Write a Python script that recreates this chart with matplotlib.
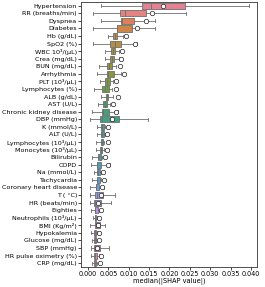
import matplotlib
matplotlib.use("Agg")
import matplotlib.pyplot as plt
import seaborn as sns

# features ordered by median |SHAP|
features = ["Hypertension", "RR (breaths/min)", "Dyspnea", "Diabetes", "Hb (g/dL)",
            "SpO2 (%)", "WBC 10³/(μL)", "Crea (mg/dL)", "BUN (mg/dL)", "Arrhythmia",
            "PLT (10³/μL)", "Lymphocytes (%)", "ALB (g/dL)", "AST (U/L)",
            "Chronic kidney disease", "DBP (mmHg)", "K (mmol/L)", "ALT (U/L)",
            "Lymphocytes (10³/μL)", "Monocytes (10³/μL)", "Bilirubin", "COPD",
            "Na (mmol/L)", "Tachycardia", "Coronary heart disease", "T ( °C)",
            "HR (beats/min)", "Eighties", "Neutrophils (10³/μL)", "BMI (Kg/m²)",
            "Hypokalemia", "Glucose (mg/dL)", "SBP (mmHg)", "HR pulse oximetry (%)",
            "CRP (mg/dL)"]

whislo = [0.00331, 0.00122, 0.00323, 0.00122, 0.00484, 0.00122, 0.00411, 0.00411, 0.00266, 0.00226,
          0.00291, 0.00146, 0.00323, 0.00242, 0.00106, 0.00041, 0.00210, 0.00210, 0.00202, 0.00202,
          0.00106, 0.00065, 0.00146, 0.00089, 0.00049, 0.00049, 0.00049, 0.00081, 0.00130, 0.00049,
          0.00065, 0.00106, 0.00065, 0.00081, 0.00106]
q1 = [0.01329, 0.00774, 0.00814, 0.00709, 0.00621, 0.00532, 0.00564, 0.00548, 0.00460, 0.00468,
      0.00419, 0.00355, 0.00435, 0.00371, 0.00347, 0.00283, 0.00323, 0.00323, 0.00307, 0.00291,
      0.00242, 0.00210, 0.00226, 0.00210, 0.00186, 0.00170, 0.00146, 0.00170, 0.00162, 0.00170,
      0.00146, 0.00146, 0.00146, 0.00146, 0.00146]
med = [0.01546, 0.00918, 0.00830, 0.00720, 0.00661, 0.00653, 0.00605, 0.00589, 0.00516, 0.00490,
       0.00468, 0.00427, 0.00468, 0.00411, 0.00370, 0.00355, 0.00355, 0.00355, 0.00339, 0.00323,
       0.00275, 0.00230, 0.00250, 0.00230, 0.00200, 0.00220, 0.00180, 0.00180, 0.00178, 0.00202,
       0.00170, 0.00178, 0.00180, 0.00170, 0.00165]
q3 = [0.02391, 0.01434, 0.01136, 0.01072, 0.00709, 0.00806, 0.00661, 0.00637, 0.00589, 0.00637,
      0.00532, 0.00508, 0.00500, 0.00468, 0.00508, 0.00766, 0.00387, 0.00387, 0.00371, 0.00355,
      0.00323, 0.00331, 0.00283, 0.00283, 0.00266, 0.00371, 0.00323, 0.00242, 0.00194, 0.00283,
      0.00194, 0.00194, 0.00283, 0.00226, 0.00186]
whishi = [0.03953, 0.02400, 0.01643, 0.01643, 0.00870, 0.01208, 0.00766, 0.00766, 0.00693, 0.00806,
          0.00613, 0.00589, 0.00613, 0.00532, 0.00725, 0.01474, 0.00427, 0.00427, 0.00403, 0.00403,
          0.00347, 0.00548, 0.00323, 0.00307, 0.00403, 0.00661, 0.00564, 0.00266, 0.00210, 0.00427,
          0.00210, 0.00210, 0.00508, 0.00266, 0.00226]
mean = [0.01852, 0.01579, 0.01434, 0.01208, 0.00943, 0.01152, 0.00846, 0.00806, 0.00782, 0.00878,
        0.00677, 0.00685, 0.00733, 0.00613, 0.00677, 0.00597, 0.00492, 0.00476, 0.00484, 0.00468,
        0.00411, 0.00484, 0.00379, 0.00387, 0.00347, 0.00323, 0.00250, 0.00331, 0.00266, 0.00242,
        0.00258, 0.00275, 0.00226, 0.00323, 0.00283]

stats = []
for i in range(len(features)):
    stats.append(dict(label=features[i], whislo=whislo[i], q1=q1[i], med=med[i],
                      q3=q3[i], whishi=whishi[i], mean=mean[i], fliers=[]))

palette = sns.color_palette("husl", len(features))
edge = "#6e6e6e"

fig = plt.figure(figsize=(2.65, 2.87), dpi=100)
ax = fig.add_axes([0.306, 0.070, 0.664, 0.923])

bp = ax.bxp(stats, positions=range(len(features)), widths=0.8, vert=False,
            patch_artist=True, showmeans=True, showfliers=False,
            boxprops=dict(edgecolor=edge, linewidth=0.6),
            whiskerprops=dict(color=edge, linewidth=0.6),
            capprops=dict(color=edge, linewidth=0.6),
            medianprops=dict(color=edge, linewidth=0.6),
            meanprops=dict(marker="o", markerfacecolor="white", markeredgecolor="#222222",
                           markersize=3.2, markeredgewidth=0.5))
for box, c in zip(bp["boxes"], palette):
    box.set_facecolor(sns.desaturate(c, 0.75))

ax.set_ylim(len(features) - 0.5, -0.5)
ax.set_xlim(-0.0017, 0.0415)
ax.set_xticks([0.000, 0.005, 0.010, 0.015, 0.020, 0.025, 0.030, 0.035, 0.040])
ax.set_xticklabels(["0.000", "0.005", "0.010", "0.015", "0.020", "0.025", "0.030", "0.035", "0.040"])
ax.tick_params(axis="y", labelsize=4.6, length=2, width=0.5, pad=1)
ax.tick_params(axis="x", labelsize=4.7, length=2, width=0.5, pad=1)
ax.set_xlabel("median(|SHAP value|)", fontsize=4.8, labelpad=1)
for s in ax.spines.values():
    s.set_linewidth(0.6)
    s.set_color("#333333")

fig.savefig("out.png", dpi=100)
